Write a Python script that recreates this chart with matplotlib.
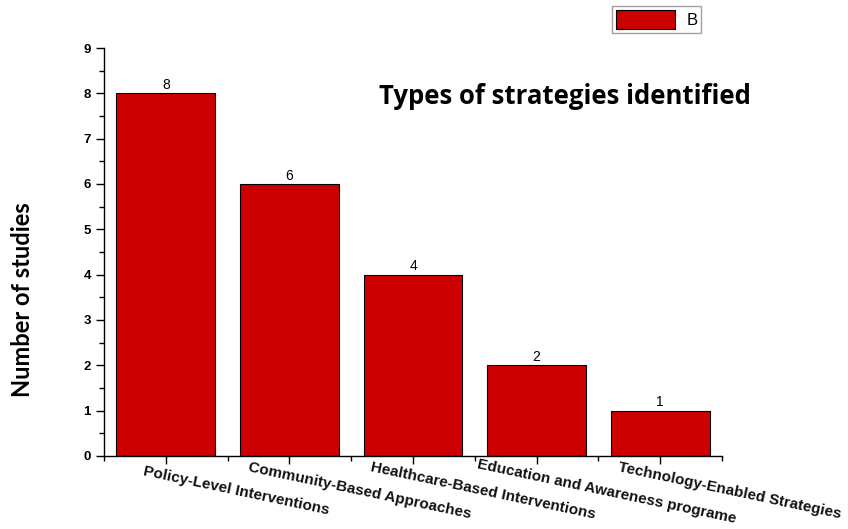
import matplotlib
matplotlib.use("Agg")
import matplotlib.pyplot as plt
from matplotlib.patches import Patch
from matplotlib.ticker import MultipleLocator
import matplotlib.transforms as mtransforms

categories = [
    "Policy-Level Interventions",
    "Community-Based Approaches",
    "Healthcare-Based Interventions",
    "Education and Awareness programe",
    "Technology-Enabled Strategies",
]
counts = [8, 6, 4, 2, 1]
series_name = "B"

bar_color = "#CC0000"

fig = plt.figure(figsize=(8.48, 5.29), dpi=100)
ax = fig.add_axes([104 / 848, 1 - 456 / 529, 618 / 848, 408 / 529])

x = list(range(len(categories)))
bars = ax.bar(x, counts, width=0.8, color=bar_color, edgecolor="black", linewidth=0.8)

for xi, v in zip(x, counts):
    ax.text(xi, v + 0.03, str(v), ha="center", va="bottom",
            fontsize=10, family="Liberation Sans")

ax.set_xlim(-0.5, 4.5)
ax.set_ylim(0, 9)
ax.yaxis.set_major_locator(MultipleLocator(1))
ax.yaxis.set_minor_locator(MultipleLocator(0.5))
ax.set_xticks(x)
ax.set_xticks([i - 0.5 for i in range(len(categories) + 1)], minor=True)

for s in ("top", "right"):
    ax.spines[s].set_visible(False)
for s in ("left", "bottom"):
    ax.spines[s].set_linewidth(1.0)

ax.tick_params(axis="both", which="major", direction="out", length=6, width=1)
ax.tick_params(axis="both", which="minor", direction="out", length=3.5, width=1)
ax.tick_params(axis="y", labelsize=9.5)
for lab in ax.get_yticklabels():
    lab.set_fontweight("bold")
    lab.set_family("Liberation Sans")

# category labels: tilted, centred a little right of and below each tick
ax.set_xticklabels(categories, rotation=-12, ha="center", va="center",
                   rotation_mode="anchor", fontsize=11, fontweight="bold",
                   family="Liberation Sans", color="#111111")
shift = mtransforms.ScaledTranslation(70 / 100, -22 / 100, fig.dpi_scale_trans)
for lab in ax.get_xticklabels():
    lab.set_transform(lab.get_transform() + shift)

fig.text(23 / 848, 1 - 300 / 529, "Number of studies", rotation=90,
         fontsize=17, fontweight="bold", family="Lato",
         ha="center", va="center")

fig.text(379 / 848, 1 - 97 / 529, "Types of strategies identified",
         fontsize=18.5, fontweight="bold", family="Open Sans",
         ha="left", va="center")

handle = Patch(facecolor=bar_color, edgecolor="black", linewidth=0.8)
leg = fig.legend([handle], [series_name], loc="upper left",
                 bbox_to_anchor=(612 / 848, 1 - 6 / 529), borderaxespad=0,
                 frameon=True, fancybox=False, edgecolor="#888888",
                 handlelength=3.5, handleheight=1.35, borderpad=0.25,
                 handletextpad=0.7,
                 prop={"family": "Liberation Sans", "size": 12})

fig.savefig("out.png", dpi=100, facecolor="white")
